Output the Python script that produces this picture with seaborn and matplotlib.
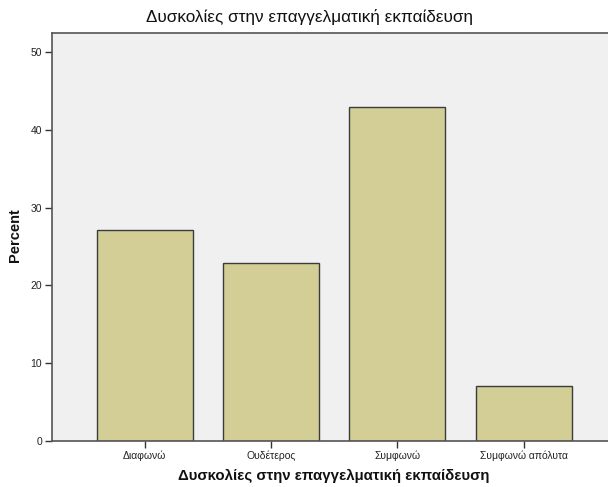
import matplotlib
matplotlib.use("Agg")
import matplotlib.pyplot as plt
import seaborn as sns
import pandas as pd

categories = ["Διαφωνώ", "Ουδέτερος", "Συμφωνώ", "Συμφωνώ απόλυτα"]
percent = [27.1, 22.9, 42.9, 7.1]
yticks = [0, 10, 20, 30, 40, 50]
title = "Δυσκολίες στην επαγγελματική εκπαίδευση"

df = pd.DataFrame({"category": categories, "percent": percent})

sns.set_style("white")
plt.rcParams["font.family"] = ["Liberation Sans", "DejaVu Sans"]

W, H = 608, 487
fig = plt.figure(figsize=(W / 100, H / 100), dpi=100)
ax = fig.add_axes([52 / W, 46 / H, 1 - 52 / W, 408 / H])
ax.set_facecolor("#F0F0F0")

sns.barplot(data=df, x="category", y="percent", color="#D2CE96",
            saturation=1, width=0.76, edgecolor="#3C3C3C", linewidth=1.0, ax=ax)

ax.set_xlim(-0.734, 3.668)
ax.set_ylim(0, 52.44)
ax.set_yticks(yticks)
ax.set_yticklabels([str(t) for t in yticks])

for side in ["left", "bottom", "top"]:
    ax.spines[side].set_visible(True)
    ax.spines[side].set_color("#555555")
    ax.spines[side].set_linewidth(1.2)
ax.spines["right"].set_visible(False)

ax.tick_params(axis="both", direction="out", length=5, width=1, color="#333333",
               labelsize=7.5, labelcolor="#222222", pad=2,
               bottom=True, left=True)

ax.set_xlabel("")
ax.set_ylabel("")

# Titles and axis labels placed in figure pixels
fig.text(309 / W, 1 - 17 / H, title, fontsize=12.3, color="#111111",
         ha="center", va="center")
fig.text(334 / W, 1 - 476 / H, title, fontsize=10.8, fontweight="bold",
         color="#111111", ha="center", va="center")
fig.text(15 / W, 1 - 235 / H, "Percent", fontsize=10.5, fontweight="bold",
         color="#111111", ha="center", va="center", rotation=90)

fig.savefig("out.png", dpi=100, facecolor="white")
